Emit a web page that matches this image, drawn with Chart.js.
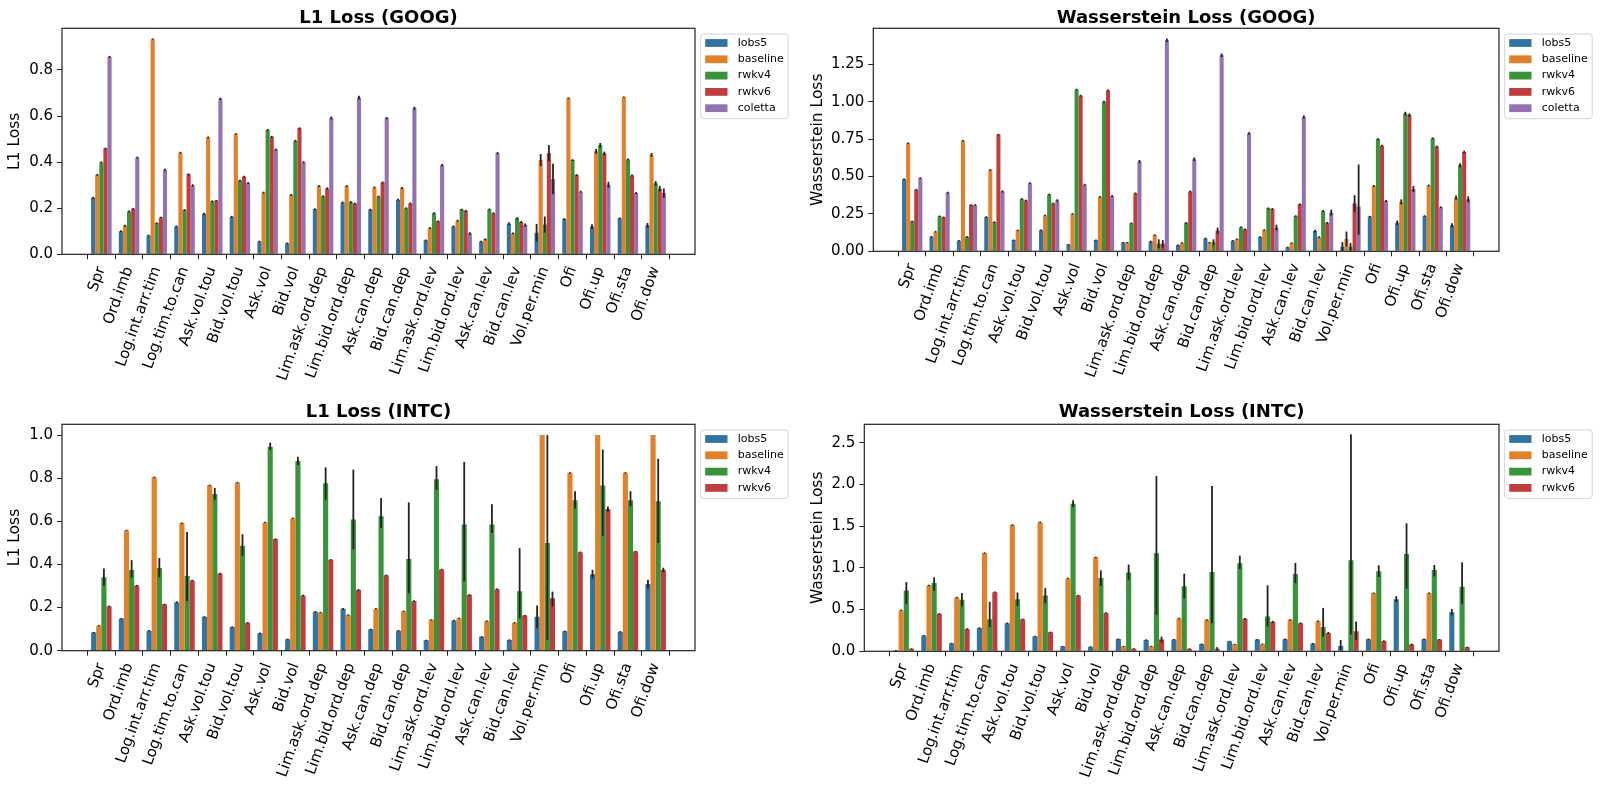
<!DOCTYPE html>
<html><head><meta charset="utf-8">
<script src="https://cdn.jsdelivr.net/npm/chart.js@4.4.0/dist/chart.umd.min.js"></script>
<style>
html,body{margin:0;padding:0;background:#fff;}
body{width:1600px;height:787px;overflow:hidden;position:relative;}
canvas{position:absolute;}
</style></head>
<body>
<script>
// ---------------- DATA ----------------
const CATS = ["Spr","Ord.imb","Log.int.arr.tim","Log.tim.to.can","Ask.vol.tou","Bid.vol.tou","Ask.vol","Bid.vol","Lim.ask.ord.dep","Lim.bid.ord.dep","Ask.can.dep","Bid.can.dep","Lim.ask.ord.lev","Lim.bid.ord.lev","Ask.can.lev","Bid.can.lev","Vol.per.min","Ofi","Ofi.up","Ofi.sta","Ofi.dow"];
const SERIES_GOOG = ["lobs5","baseline","rwkv4","rwkv6","coletta"];
const SERIES_INTC = ["lobs5","baseline","rwkv4","rwkv6"];

// L1 Loss (GOOG)
const l1GoogLobs5    = [0.245,0.100,0.082,0.121,0.176,0.163,0.056,0.048,0.196,0.225,0.194,0.237,0.061,0.121,0.056,0.133,0.094,0.153,0.120,0.156,0.126];
const l1GoogBaseline = [0.345,0.124,0.934,0.441,0.507,0.523,0.268,0.258,0.296,0.296,0.290,0.288,0.114,0.146,0.065,0.091,0.409,0.678,0.447,0.682,0.432];
const l1GoogRwkv4    = [0.400,0.186,0.136,0.192,0.230,0.320,0.540,0.493,0.252,0.226,0.251,0.200,0.178,0.194,0.195,0.156,0.129,0.409,0.473,0.412,0.308];
const l1GoogRwkv6    = [0.460,0.198,0.160,0.347,0.233,0.337,0.510,0.547,0.286,0.220,0.312,0.221,0.143,0.189,0.178,0.140,0.439,0.344,0.438,0.342,0.285];
const l1GoogColetta  = [0.857,0.420,0.367,0.299,0.675,0.310,0.455,0.400,0.592,0.680,0.591,0.634,0.387,0.090,0.439,0.127,0.327,0.272,0.302,0.266,0.266];
const l1GoogLobs5Err    = [0.004,0.004,0.003,0.004,0.004,0.004,0.003,0.003,0.004,0.004,0.004,0.004,0.003,0.004,0.003,0.006,0.038,0.004,0.010,0.004,0.010];
const l1GoogBaselineErr = [0.004,0.004,0.003,0.004,0.004,0.003,0.004,0.004,0.004,0.004,0.004,0.004,0.004,0.004,0.004,0.004,0.026,0.003,0.010,0.003,0.008];
const l1GoogRwkv4Err    = [0.003,0.004,0.003,0.004,0.004,0.004,0.004,0.004,0.004,0.005,0.004,0.004,0.004,0.004,0.004,0.005,0.035,0.004,0.010,0.004,0.010];
const l1GoogRwkv6Err    = [0.003,0.003,0.003,0.004,0.003,0.004,0.004,0.004,0.004,0.004,0.004,0.004,0.004,0.004,0.004,0.004,0.035,0.004,0.008,0.004,0.012];
const l1GoogColettaErr  = [0.004,0.004,0.004,0.005,0.005,0.004,0.004,0.004,0.006,0.008,0.005,0.007,0.005,0.006,0.005,0.007,0.066,0.004,0.013,0.004,0.020];

// Wasserstein Loss (GOOG)
const wGoogLobs5    = [0.481,0.098,0.071,0.230,0.075,0.140,0.045,0.075,0.058,0.065,0.042,0.085,0.071,0.096,0.027,0.136,0.031,0.232,0.190,0.236,0.174];
const wGoogBaseline = [0.722,0.131,0.739,0.545,0.140,0.240,0.250,0.365,0.058,0.107,0.056,0.058,0.082,0.143,0.056,0.094,0.082,0.437,0.330,0.440,0.358];
const wGoogRwkv4    = [0.200,0.234,0.098,0.195,0.350,0.380,1.080,1.000,0.187,0.050,0.190,0.060,0.160,0.287,0.236,0.270,0.031,0.750,0.920,0.755,0.575];
const wGoogRwkv6    = [0.412,0.227,0.310,0.780,0.340,0.320,1.040,1.075,0.388,0.050,0.400,0.138,0.147,0.283,0.314,0.190,0.320,0.706,0.910,0.700,0.664];
const wGoogColetta  = [0.490,0.392,0.310,0.400,0.455,0.340,0.445,0.370,0.600,1.410,0.615,1.310,0.788,0.158,0.898,0.258,0.300,0.336,0.416,0.294,0.347];
const wGoogLobs5Err    = [0.005,0.004,0.004,0.005,0.004,0.005,0.004,0.004,0.004,0.006,0.004,0.006,0.004,0.005,0.004,0.008,0.030,0.005,0.015,0.005,0.014];
const wGoogBaselineErr = [0.005,0.005,0.005,0.005,0.005,0.005,0.005,0.005,0.004,0.006,0.004,0.005,0.004,0.005,0.004,0.006,0.050,0.006,0.017,0.006,0.014];
const wGoogRwkv4Err    = [0.005,0.005,0.005,0.005,0.005,0.005,0.006,0.006,0.005,0.030,0.005,0.020,0.005,0.006,0.005,0.006,0.025,0.006,0.012,0.006,0.014];
const wGoogRwkv6Err    = [0.005,0.005,0.005,0.005,0.005,0.005,0.006,0.006,0.005,0.025,0.006,0.020,0.005,0.006,0.006,0.006,0.055,0.006,0.012,0.006,0.008];
const wGoogColettaErr  = [0.005,0.006,0.005,0.008,0.006,0.008,0.006,0.006,0.010,0.012,0.012,0.012,0.008,0.020,0.010,0.020,[0.19,0.28],0.006,0.020,0.006,0.020];

// L1 Loss (INTC)
const l1IntcLobs5    = [0.084,0.149,0.093,0.225,0.157,0.110,0.081,0.053,0.181,0.194,0.099,0.093,0.048,0.140,0.065,0.050,0.157,0.090,0.355,0.088,0.309];
const l1IntcBaseline = [0.116,0.558,0.805,0.592,0.767,0.780,0.595,0.614,0.177,0.166,0.195,0.183,0.143,0.150,0.138,0.130,1.000,0.825,1.000,0.825,1.000];
const l1IntcRwkv4    = [0.341,0.374,0.383,0.346,0.727,0.487,0.946,0.880,0.777,0.609,0.623,0.425,0.795,0.585,0.585,0.276,0.500,0.698,0.766,0.698,0.693];
const l1IntcRwkv6    = [0.206,0.302,0.215,0.326,0.358,0.130,0.518,0.256,0.422,0.282,0.350,0.231,0.377,0.259,0.285,0.163,0.243,0.457,0.657,0.460,0.375];
const l1IntcLobs5Err    = [0.003,0.003,0.003,0.004,0.003,0.003,0.003,0.003,0.003,0.004,0.003,0.003,0.003,0.003,0.003,0.003,0.053,0.003,0.020,0.003,0.020];
const l1IntcBaselineErr = [0.003,0.003,0.003,0.003,0.003,0.003,0.003,0.003,0.003,0.003,0.003,0.003,0.003,0.003,0.003,0.003,0,0.003,0,0.003,0];
const l1IntcRwkv4Err    = [[0.04,0.04],[0.034,0.046],[0.043,0.047],[0.116,0.204],[0.027,0.028],[0.047,0.053],[0.016,0.019],[0.02,0.02],[0.077,0.073],[0.139,0.231],[0.054,0.085],[0.158,0.263],[0.048,0.061],[0.264,0.291],[0.039,0.094],[0.126,0.2],[0.45,0.5],[0.039,0.042],[0.233,0.167],[0.028,0.042],[0.193,0.197]];
const l1IntcRwkv6Err    = [0.003,0.003,0.003,0.003,0.003,0.003,0.003,0.003,0.003,0.004,0.003,0.003,0.003,0.003,0.003,0.003,[0.038,0.031],0.003,0.012,0.003,0.010];

// Wasserstein Loss (INTC)
const wIntcLobs5    = [0.010,0.190,0.096,0.280,0.337,0.180,0.060,0.056,0.148,0.136,0.140,0.088,0.120,0.140,0.144,0.092,0.064,0.144,0.625,0.144,0.469];
const wIntcBaseline = [0.493,0.790,0.645,1.178,1.514,1.546,0.873,1.126,0.060,0.060,0.393,0.377,0.084,0.088,0.377,0.360,null,0.697,null,0.697,null];
const wIntcRwkv4    = [0.729,0.817,0.617,0.385,0.625,0.669,1.767,0.877,0.945,1.174,0.780,0.950,1.054,0.417,0.925,0.292,1.090,0.960,1.166,0.974,0.773];
const wIntcRwkv6    = [0.030,0.449,0.268,0.709,0.385,0.228,0.669,0.460,0.032,0.140,0.030,0.030,0.389,0.353,0.337,0.220,0.240,0.124,0.080,0.140,0.048];
const wIntcLobs5Err    = [0.005,0.006,0.006,0.008,0.008,0.007,0.005,0.005,0.006,0.008,0.008,0.006,0.006,0.008,0.008,0.008,[0.048,0.072],0.008,0.036,0.008,0.037];
const wIntcBaselineErr = [0.008,0.008,0.008,0.008,0.008,0.008,0.008,0.008,0.006,0.006,0.008,0.008,0.006,0.006,0.008,0.008,0,0.008,0,0.008,0];
const wIntcRwkv4Err    = [[0.16,0.1],[0.092,0.068],[0.08,0.083],[0.095,0.208],[0.08,0.08],[0.092,0.088],[0.04,0.043],[0.092,0.093],[0.088,0.095],[0.737,0.926],[0.143,0.15],[0.613,1.03],[0.069,0.092],[0.121,0.373],[0.108,0.133],[0.116,0.228],[0.89,1.51],[0.07,0.07],[0.416,0.368],[0.077,0.06],[0.204,0.293]];
const wIntcRwkv6Err    = [0.006,0.008,0.008,0.008,0.008,0.008,0.008,0.008,0.006,0.035,0.006,0.020,0.010,0.012,0.010,0.012,[0.104,0.117],0.008,0.012,0.008,0.008];

// ---------------- STYLE ----------------
const FONT = 'DejaVu Sans';
const COLORS = ['#3274a1','#e1812c','#3a923a','#c03d3e','#9372b2'];

const errPlugin = {
  id: 'errbars',
  afterDatasetsDraw(chart) {
    const ctx = chart.ctx, ys = chart.scales.y;
    ctx.save();
    ctx.strokeStyle = '#222';
    ctx.lineWidth = 1.8;
    chart.data.datasets.forEach((ds, di) => {
      const meta = chart.getDatasetMeta(di);
      meta.data.forEach((bar, i) => {
        const v = ds.values[i], e = ds.errors[i];
        if (v == null || e == null) return;
        const lo = Array.isArray(e) ? e[0] : e;
        const hi = Array.isArray(e) ? e[1] : e;
        if (!lo && !hi) return;
        ctx.beginPath();
        ctx.moveTo(bar.x, ys.getPixelForValue(v - lo));
        ctx.lineTo(bar.x, ys.getPixelForValue(v + hi));
        ctx.stroke();
      });
    });
    ctx.restore();
  }
};

const framePlugin = {
  id: 'frameLegend',
  afterDraw(chart) {
    const ctx = chart.ctx, a = chart.chartArea;
    ctx.save();
    ctx.strokeStyle = '#222';
    ctx.lineWidth = 1.2;
    ctx.strokeRect(a.left, a.top, a.right - a.left, a.bottom - a.top);
    const ds = chart.data.datasets;
    const bx = a.right + 5.7, by = a.top + 5.7, bw = 87.5, rowH = 16.3;
    const bh = 9 + (ds.length - 1) * rowH + 10.5;
    const r = 3;
    ctx.beginPath();
    ctx.moveTo(bx + r, by);
    ctx.lineTo(bx + bw - r, by); ctx.arcTo(bx + bw, by, bx + bw, by + r, r);
    ctx.lineTo(bx + bw, by + bh - r); ctx.arcTo(bx + bw, by + bh, bx + bw - r, by + bh, r);
    ctx.lineTo(bx + r, by + bh); ctx.arcTo(bx, by + bh, bx, by + bh - r, r);
    ctx.lineTo(bx, by + r); ctx.arcTo(bx, by, bx + r, by, r);
    ctx.closePath();
    ctx.fillStyle = 'rgba(255,255,255,0.85)';
    ctx.fill();
    ctx.strokeStyle = '#d4d4d4';
    ctx.lineWidth = 1;
    ctx.stroke();
    ctx.font = '11px "' + FONT + '"';
    ctx.textBaseline = 'middle';
    ds.forEach((d, i) => {
      const cy = by + 9 + i * rowH;
      ctx.fillStyle = d.backgroundColor;
      ctx.fillRect(bx + 4.5, cy - 3.9, 22.3, 7.8);
      ctx.fillStyle = '#000';
      ctx.fillText(d.label, bx + 37, cy);
    });
    ctx.restore();
  }
};

function makeChart(p) {
  const cv = document.createElement('canvas');
  cv.width = p.w; cv.height = p.h;
  cv.style.left = p.left + 'px'; cv.style.top = p.top + 'px';
  cv.style.width = p.w + 'px'; cv.style.height = p.h + 'px';
  document.body.appendChild(cv);
  const datasets = p.names.map((name, k) => ({
    label: name,
    data: p.values[k].map((v, i) => ({x: i, y: v})),
    values: p.values[k],
    errors: p.errors[k],
    backgroundColor: COLORS[k],
    borderWidth: 0,
    categoryPercentage: 0.74,
    barPercentage: 1.0
  }));
  return new Chart(cv.getContext('2d'), {
    type: 'bar',
    data: {datasets},
    options: {
      responsive: false,
      animation: false,
      devicePixelRatio: 1,
      layout: {padding: {left: p.padL, right: p.padR, top: 0, bottom: 0}},
      plugins: {
        legend: {display: false},
        tooltip: {enabled: false},
        title: {
          display: true, text: p.title, fullSize: false, color: '#000',
          font: {family: FONT, size: 18, weight: 'bold', lineHeight: 1.0},
          padding: {top: p.tPadT, bottom: p.tPadB}
        }
      },
      scales: {
        x: {
          type: 'linear', min: -1.42, max: 21.42, offset: false,
          afterBuildTicks: s => { s.ticks = CATS.map((c, i) => ({value: i})); },
          afterFit: s => { s.height = p.xh; },
          grid: {drawOnChartArea: false, drawTicks: true, tickLength: 5, color: '#222', lineWidth: 1},
          border: {display: false},
          ticks: {autoSkip: false, minRotation: 70, maxRotation: 70, padding: 5, color: '#000',
                  font: {family: FONT, size: 15}, callback: v => CATS[v]}
        },
        y: {
          min: 0, max: p.ymax,
          afterFit: s => { s.width = p.yw; },
          grid: {drawOnChartArea: false, drawTicks: true, tickLength: 5, color: '#222', lineWidth: 1},
          border: {display: false},
          ticks: {stepSize: p.step, includeBounds: false, padding: 4, color: '#000',
                  font: {family: FONT, size: 15}, callback: v => Number(v).toFixed(p.dec)},
          title: {display: true, text: p.ylabel, color: '#000',
                  font: {family: FONT, size: 15.5, lineHeight: 1.2}, padding: {top: 0, bottom: 0}}
        }
      }
    },
    plugins: [errPlugin, framePlugin]
  });
}

makeChart({
  left: 0, top: 0, w: 800, h: 397, padL: 5.7, padR: 105, yw: 56.3, xh: 142.7,
  tPadT: 9.8, tPadB: 0.5, title: 'L1 Loss (GOOG)', ylabel: 'L1 Loss',
  ymax: 0.981, step: 0.2, dec: 1, names: SERIES_GOOG,
  values: [l1GoogLobs5, l1GoogBaseline, l1GoogRwkv4, l1GoogRwkv6, l1GoogColetta],
  errors: [l1GoogLobs5Err, l1GoogBaselineErr, l1GoogRwkv4Err, l1GoogRwkv6Err, l1GoogColettaErr]
});
makeChart({
  left: 800, top: 0, w: 800, h: 397, padL: 8.2, padR: 101, yw: 65.1, xh: 145.7,
  tPadT: 9.8, tPadB: 0.5, title: 'Wasserstein Loss (GOOG)', ylabel: 'Wasserstein Loss',
  ymax: 1.49, step: 0.25, dec: 2, names: SERIES_GOOG,
  values: [wGoogLobs5, wGoogBaseline, wGoogRwkv4, wGoogRwkv6, wGoogColetta],
  errors: [wGoogLobs5Err, wGoogBaselineErr, wGoogRwkv4Err, wGoogRwkv6Err, wGoogColettaErr]
});
makeChart({
  left: 0, top: 397, w: 800, h: 390, padL: 5.7, padR: 105, yw: 56.3, xh: 136.3,
  tPadT: 6.1, tPadB: 3.2, title: 'L1 Loss (INTC)', ylabel: 'L1 Loss',
  ymax: 1.05, step: 0.2, dec: 1, names: SERIES_INTC,
  values: [l1IntcLobs5, l1IntcBaseline, l1IntcRwkv4, l1IntcRwkv6],
  errors: [l1IntcLobs5Err, l1IntcBaselineErr, l1IntcRwkv4Err, l1IntcRwkv6Err]
});
makeChart({
  left: 800, top: 397, w: 800, h: 390, padL: 8.2, padR: 101, yw: 56.1, xh: 135.7,
  tPadT: 6.1, tPadB: 3.2, title: 'Wasserstein Loss (INTC)', ylabel: 'Wasserstein Loss',
  ymax: 2.72, step: 0.5, dec: 1, names: SERIES_INTC,
  values: [wIntcLobs5, wIntcBaseline, wIntcRwkv4, wIntcRwkv6],
  errors: [wIntcLobs5Err, wIntcBaselineErr, wIntcRwkv4Err, wIntcRwkv6Err]
});
</script>
</body></html>
